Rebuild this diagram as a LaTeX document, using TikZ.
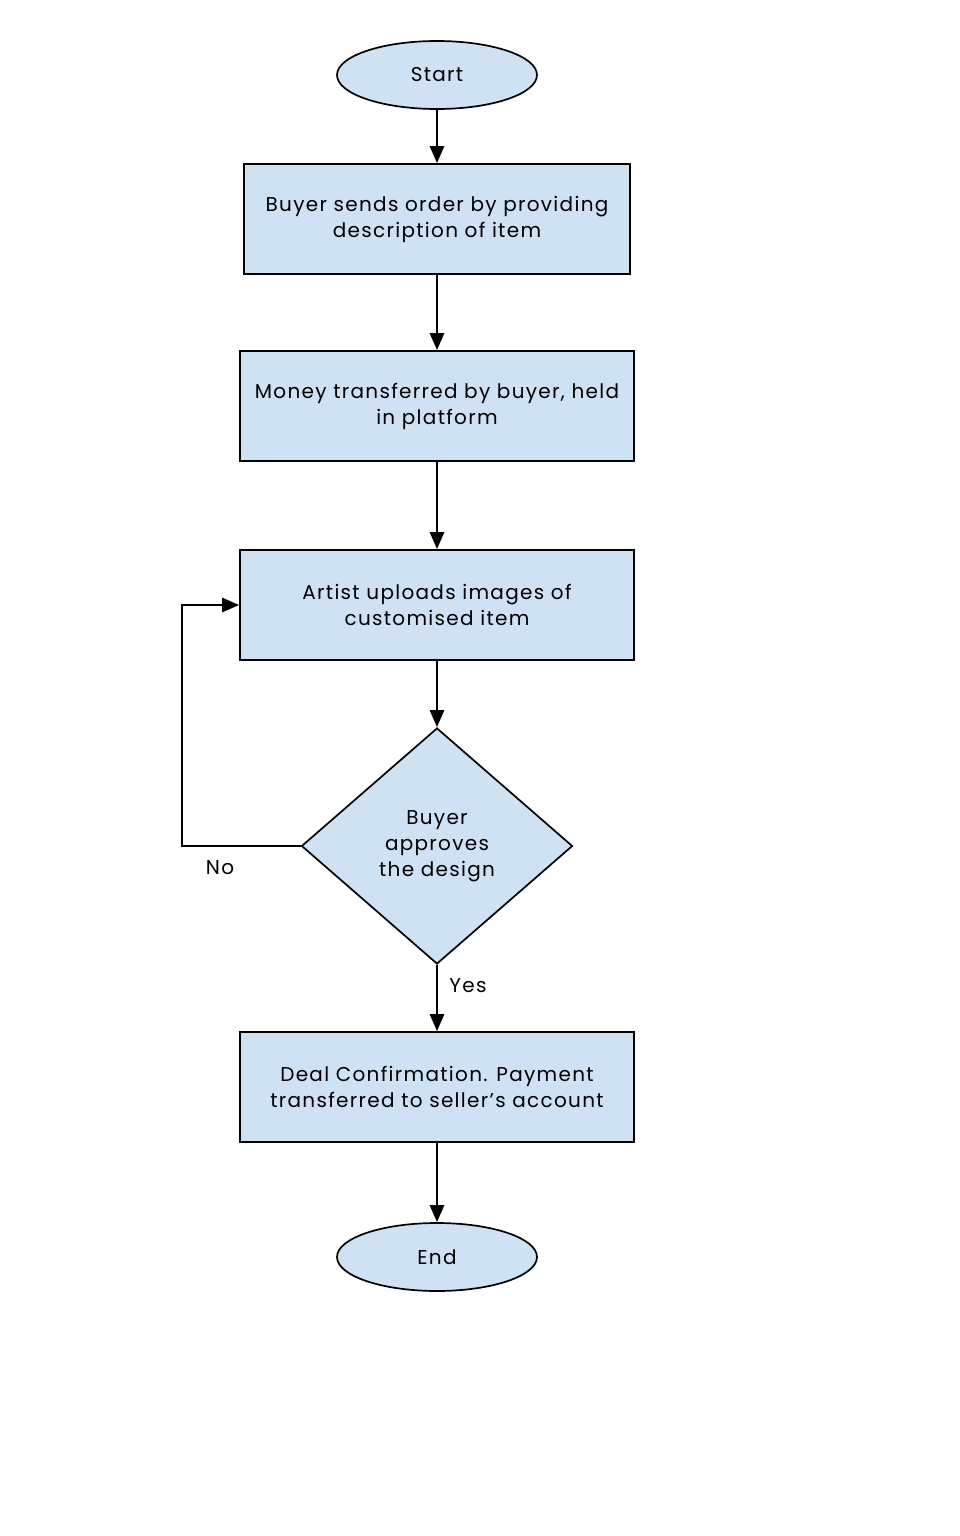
\documentclass[tikz,border=0pt]{standalone}
\usepackage{fontspec}
\setmainfont{Poppins}[LetterSpace=6.5]
\usetikzlibrary{shapes.geometric,arrows.meta}
\definecolor{fillblue}{HTML}{CFE2F3}
\begin{document}
\begin{tikzpicture}[x=1pt,y=-1pt,
  base/.style={draw=black,line width=1.7pt,fill=fillblue,font=\fontsize{20}{26}\selectfont,align=center,inner sep=0pt},
  term/.style={base,ellipse,minimum width=200pt,minimum height=68pt},
  proc/.style={base,rectangle,minimum height=110pt},
  dec/.style={base,diamond,minimum width=271pt,minimum height=236pt},
  arr/.style={line width=2.8pt,-{Triangle[width=14pt,length=17pt]}},
  lbl/.style={font=\fontsize{20}{24}\selectfont,inner sep=0pt}]
\useasboundingbox (0,0) rectangle (960,1536);
\node[term] (start) at (437,75) {Start};
\node[proc,minimum width=386pt] (b1) at (437,219) {Buyer sends order by providing\\description of item};
\node[proc,minimum width=394pt] (b2) at (437,406) {Money transferred by buyer, held\\in platform};
\node[proc,minimum width=394pt] (b3) at (437,605) {Artist uploads images of\\customised item};
\node[dec] (d) at (437,846) {Buyer\\approves\\the design};
\node[proc,minimum width=394pt] (b4) at (437,1087) {Deal Confirmation. Payment\\transferred to seller’s account};
\node[term] (end) at (437,1257) {End};
\coordinate (lp) at (182,846);
\draw[arr] (start) -- (b1);
\draw[arr] (b1) -- (b2);
\draw[arr] (b2) -- (b3);
\draw[arr] (b3) -- (d);
\draw[arr] (d) -- (b4);
\draw[arr] (b4) -- (end);
\draw[arr] (d.west) -- (lp) |- (b3.west);
\node[lbl] (no) at (220,868) {No};
\node[lbl] (yes) at (468,986) {Yes};
\end{tikzpicture}
\end{document}
